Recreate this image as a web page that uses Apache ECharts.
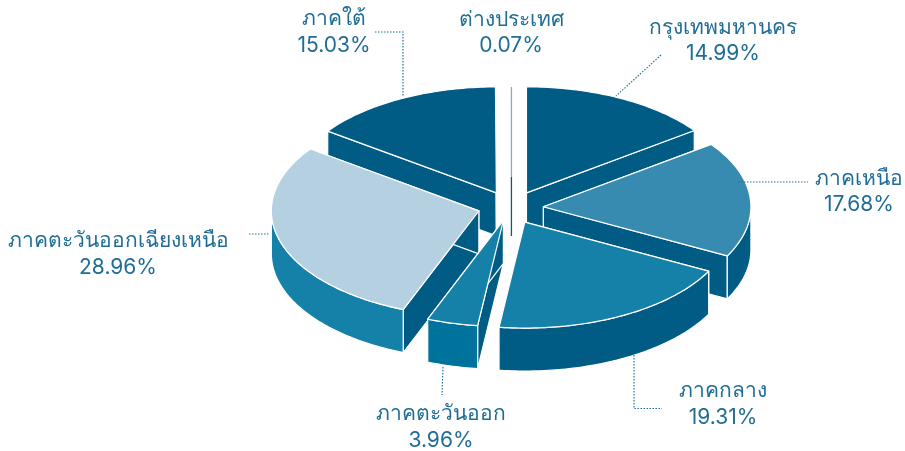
<!DOCTYPE html>
<html>
<head>
<meta charset="utf-8">
<style>
  html, body { margin: 0; padding: 0; background: #fff; }
  #chart { width: 905px; height: 451px; }
</style>
<script src="https://cdn.jsdelivr.net/npm/echarts@6/dist/echarts.min.js"></script>
</head>
<body>
<div id="chart"></div>
<script>
  // clockwise from 12 o'clock
  const regions = ['กรุงเทพมหานคร', 'ภาคเหนือ', 'ภาคกลาง', 'ภาคตะวันออก', 'ภาคตะวันออกเฉียงเหนือ', 'ภาคใต้', 'ต่างประเทศ']
  const shares = [14.99, 17.68, 19.31, 3.96, 28.96, 15.03, 0.07]

  const topColors = ['#005b85', '#388bb0', '#1580a8', '#1580a8', '#b5d0e1', '#005b85', '#7fb0cf']
  const rimColors = ['#005b85', '#005b85', '#005b85', '#00739c', '#1580a8', '#005b85', '#005b85']
  const cutColor = '#005b85'
  const textColor = '#1f6d96'

  // back to front
  const drawOrder = [5, 0, 6, 4, 1, 2, 3]

  const labelPos = [[723, 40.5], [859, 191.5], [723, 404], [441, 427], [118, 254], [334, 32], [511, 32.5]]
  const leaders = [
    [[661, 55], [616, 96]],
    [[738, 182], [808, 182]],
    [[634, 355], [634, 408.5], [662, 408.5]],
    [[443, 367], [442, 395]],
    [[249, 234], [270, 234]],
    [[375, 32], [403, 32], [403, 97]],
    []
  ]

  // projected pie
  const cx = 511.5, cy = 208, rx = 207.5, ry = 106, depth = 43
  const explodeX = 33, explodeY = 17
  // the slices do not sit quite evenly in the original
  const nudge = [[0, 0], [-1, 0], [-2, -1], [0, -4], [-1, -2], [0, 0], [0, 0]]

  const rad = d => d * Math.PI / 180
  const startAngles = []
  shares.reduce((sum, v, i) => { startAngles[i] = sum / 100 * 360; return sum + v }, 0)

  function rimPoint(ax, ay, deg, down) {
    return [ax + rx * Math.sin(rad(deg)), ay - ry * Math.cos(rad(deg)) + (down || 0)]
  }

  function arc(ax, ay, from, to, down) {
    let pts = []
    for (let d = from; d < to; d += 1) pts.push(rimPoint(ax, ay, d, down))
    pts.push(rimPoint(ax, ay, to, down))
    return pts
  }

  function face(points, fill) {
    return { type: 'polygon', shape: { points: points }, style: { fill: fill, stroke: '#fff', lineWidth: 1.2, lineJoin: 'round' } }
  }

  function cutWall(ax, ay, deg) {
    let a = rimPoint(ax, ay, deg)
    let b = rimPoint(ax, ay, deg, depth)
    return face([[ax, ay], a, b, [ax, ay + depth]], cutColor)
  }

  function renderSlice(params, api) {
    let i = api.value(0)
    let value = api.value(1)
    let from = startAngles[i]
    let to = from + value / 100 * 360
    let mid = (from + to) / 2
    let ax = cx + explodeX * Math.sin(rad(mid)) + nudge[i][0]
    let ay = cy - explodeY * Math.cos(rad(mid)) + nudge[i][1]
    let children = []

    if (to - from < 1) {
      // too thin for a wedge, seen edge on
      children.push({ type: 'line', shape: { x1: ax, y1: ay - ry + 2, x2: ax, y2: ay - 14 }, style: { stroke: topColors[i], lineWidth: 1.3 } })
      children.push({ type: 'line', shape: { x1: ax, y1: ay - 14, x2: ax, y2: ay + 45 }, style: { stroke: rimColors[i], lineWidth: 1.3 } })
    } else {
      children.push(cutWall(ax, ay, from))
      children.push(cutWall(ax, ay, to))
      let f = Math.max(from, 90), t = Math.min(to, 270)
      if (f < t) {
        let upper = arc(ax, ay, f, t, 0)
        let lower = arc(ax, ay, f, t, depth).reverse()
        children.push(face(upper.concat(lower), rimColors[i]))
      }
      children.push(face([[ax, ay]].concat(arc(ax, ay, from, to, 0)), topColors[i]))
    }

    if (leaders[i].length) {
      children.push({
        type: 'polyline',
        shape: { points: leaders[i] },
        style: { fill: null, stroke: '#1f7399', lineWidth: 1.2, lineDash: [1.5, 1.5] }
      })
    }

    children.push({
      type: 'text',
      x: labelPos[i][0],
      y: labelPos[i][1],
      style: {
        text: regions[i] + '\n' + value.toFixed(2) + '%',
        fill: textColor,
        font: '21px Inter, "Noto Sans", sans-serif',
        lineHeight: 26.5,
        align: 'center',
        verticalAlign: 'middle'
      }
    })
    return { type: 'group', children: children }
  }

  let chart = echarts.init(document.getElementById('chart'))
  chart.setOption({
    backgroundColor: '#fff',
    animation: false,
    series: [{
      type: 'custom',
      coordinateSystem: 'none',
      renderItem: renderSlice,
      data: drawOrder.map(i => [i, shares[i]])
    }]
  })
</script>
</body>
</html>
